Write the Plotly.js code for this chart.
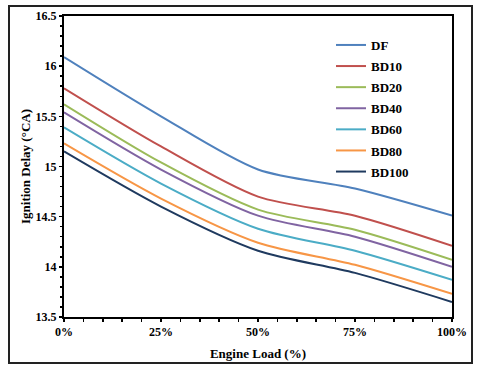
<!DOCTYPE html>
<html><head><meta charset="utf-8">
<script src="https://cdn.plot.ly/plotly-3.0.1.min.js"></script>
<style>html,body{margin:0;padding:0;background:#fff;}#chart{width:480px;height:371px;}</style>
</head><body><div id="chart"></div>
<script>
const loads = [0, 25, 50, 75, 100];
const tickLabels = ["0%", "25%", "50%", "75%", "100%"];
const seriesNames = ["DF", "BD10", "BD20", "BD40", "BD60", "BD80", "BD100"];
const DF    = [16.09, 15.50, 14.97, 14.78, 14.51];
const BD10  = [15.78, 15.20, 14.70, 14.51, 14.21];
const BD20  = [15.62, 15.04, 14.57, 14.37, 14.07];
const BD40  = [15.54, 14.97, 14.51, 14.30, 14.00];
const BD60  = [15.39, 14.83, 14.38, 14.16, 13.87];
const BD80  = [15.23, 14.68, 14.24, 14.02, 13.73];
const BD100 = [15.15, 14.60, 14.16, 13.94, 13.65];
const seriesValues = [DF, BD10, BD20, BD40, BD60, BD80, BD100];
const colors = ["#4F81BD", "#C0504D", "#9BBB59", "#8064A2", "#4BACC6", "#F79646", "#1F3A5F"];

const traces = seriesNames.map((n, i) => ({
  x: loads, y: seriesValues[i], name: n, type: "scatter", mode: "lines",
  legendgroup: "g" + i,
  line: {color: colors[i], width: 2, shape: "spline", smoothing: 0.8}
}));

const font = {family: "Liberation Serif, Times New Roman, serif", color: "#000"};
const L = 64, R = 28, T = 16, B = 54, W = 480, H = 371;
const pw = W - L - R, ph = H - T - B;
const px = v => (v - L) / pw;
const py = v => (H - B - v) / ph;

const layout = {
  width: W, height: H,
  margin: {l: L, r: R, t: T, b: B},
  paper_bgcolor: "#fff", plot_bgcolor: "#fff",
  font: Object.assign({size: 12}, font),
  showlegend: true,
  legend: {x: px(331), y: py(30), xanchor: "left", yanchor: "top",
    font: Object.assign({size: 13, weight: "bold"}, font), bgcolor: "rgba(0,0,0,0)",
    tracegroupgap: 1.2},
  xaxis: {
    range: [0, 100], tickvals: loads, ticktext: tickLabels,
    tickfont: Object.assign({size: 12, weight: "bold"}, font),
    ticks: "outside", ticklen: 3, tickwidth: 1.5, tickcolor: "#000",
    minor: {dtick: 5, ticks: "outside", ticklen: 3, tickwidth: 1.5, tickcolor: "#000"},
    showgrid: false, zeroline: false,
    showline: true, linecolor: "#000", linewidth: 2, mirror: true,
    title: {text: "Engine Load (%)", font: Object.assign({size: 13, weight: "bold"}, font), standoff: 10}
  },
  yaxis: {
    range: [13.5, 16.5], dtick: 0.5, tick0: 13.5,
    tickfont: Object.assign({size: 12, weight: "bold"}, font),
    ticks: "outside", ticklen: 3, tickwidth: 1.5, tickcolor: "#000",
    minor: {dtick: 0.1, ticks: "outside", ticklen: 2, tickwidth: 1.5, tickcolor: "#000"},
    showgrid: false, zeroline: false,
    showline: true, linecolor: "#000", linewidth: 2, mirror: true,
    title: {text: "Ignition Delay (°CA)", font: Object.assign({size: 13, weight: "bold"}, font), standoff: 2}
  },
  shapes: [{type: "rect", xref: "paper", yref: "paper",
    x0: px(9), x1: px(472), y0: py(363), y1: py(6),
    line: {color: "#222", width: 2}, fillcolor: "rgba(0,0,0,0)", layer: "below"}]
};

Plotly.newPlot("chart", traces, layout, {displayModeBar: false, staticPlot: true});
</script></body></html>
